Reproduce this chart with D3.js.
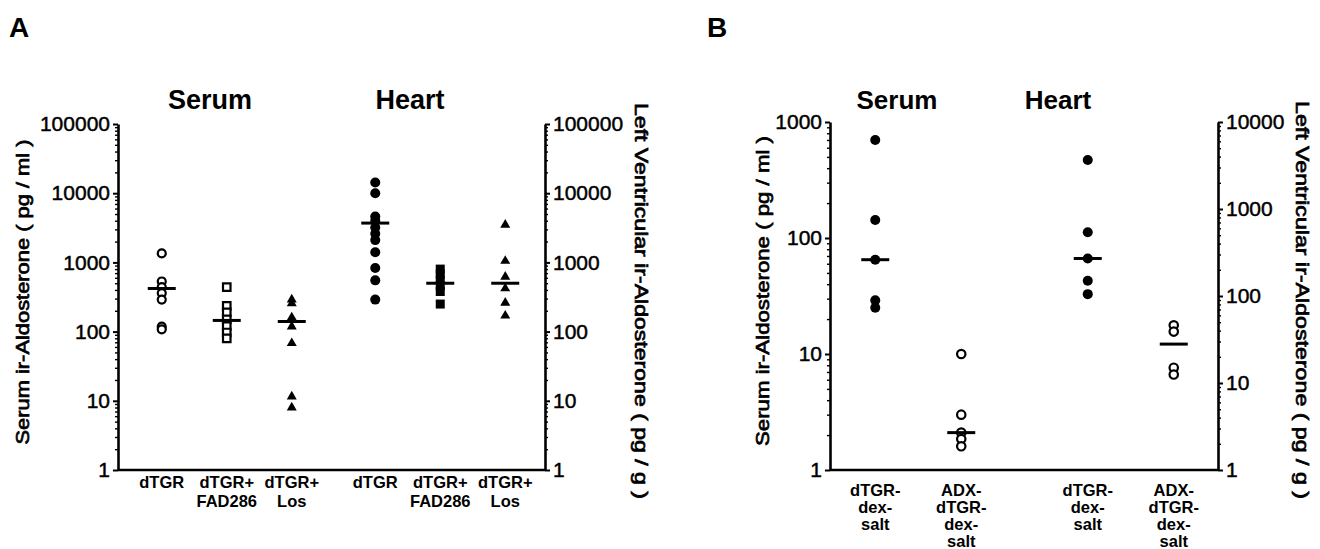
<!DOCTYPE html>
<html>
<head>
<meta charset="utf-8">
<script src="https://cdn.jsdelivr.net/npm/d3@7"></script>
<style>
  body { margin: 0; background: #fff; }
  svg { display: block; font-family: "Liberation Sans", Arial, sans-serif; }
</style>
</head>
<body>
<svg id="chart" width="1320" height="549"></svg>
<script>
/********/
/* data */
/********/

const groups = ["Serum", "Heart"];
const categoriesA = [["dTGR"], ["dTGR+", "FAD286"], ["dTGR+", "Los"]];
const categoriesB = [["dTGR-", "dex-", "salt"], ["ADX-", "dTGR-", "dex-", "salt"]];

// panel A, serum (pg/ml) and heart (pg/g)
const aSerumDTGR = [1350, 530, 440, 360, 290, 118, 108];
const aSerumFAD = [440, 235, 190, 150, 120, 97, 80];
const aSerumLos = [290, 255, 160, 118, 68, 11.5, 8];
const aHeartDTGR = [14300, 10000, 4600, 4000, 3200, 2600, 2100, 1400, 830, 550, 290];
const aHeartFAD = [800, 680, 560, 460, 380, 250];
const aHeartLos = [3500, 1050, 620, 420, 260, 170];
const aMedians = [420, 145, 140, 3700, 500, 500];

// panel B
const bSerumDTGR = [700, 143, 65, 29, 25];
const bSerumADX = [10, 3, 2.1, 1.85, 1.6];
const bHeartDTGR = [3650, 540, 270, 150, 105];
const bHeartADX = [46, 39, 15, 12.5];
const bMedians = [65, 2.1, 270, 28];

const ticksA = [1, 10, 100, 1000, 10000, 100000];
const ticksBLeft = [1, 10, 100, 1000];
const ticksBRight = [1, 10, 100, 1000, 10000];

const leftTitle = "Serum ir-Aldosterone ( pg / ml )";
const rightTitle = "Left Ventricular ir-Aldosterone ( pg / g )";

/**********/
/* panels */
/**********/

const svg = d3.select("#chart");

const panelA = {
  letter: "A",
  letterX: 9,
  left: 118,
  right: 545,
  top: 124,
  bottom: 470,
  bandRange: [120, 547],
  innerHalf: 65,
  titleX: [210, 410],
  titleSize: 27,
  leftDomain: [1, 100000],
  rightDomain: [1, 100000],
  leftTicks: ticksA,
  rightTicks: ticksA,
  categories: categoriesA,
  labelSize: 16.5,
  labelBase: 488,
  labelStep: 19,
  leftLabelX: 22,
  rightLabelX: 641,
  leftLabelLen: 305,
  rightLabelLen: 396,
  series: [
    { group: "Serum", cat: 0, values: aSerumDTGR, median: aMedians[0], shape: "circle", filled: false, size: 4 },
    { group: "Serum", cat: 1, values: aSerumFAD, median: aMedians[1], shape: "square", filled: false, size: 7.5 },
    { group: "Serum", cat: 2, values: aSerumLos, median: aMedians[2], shape: "triangle", filled: true, size: 10 },
    { group: "Heart", cat: 0, values: aHeartDTGR, median: aMedians[3], shape: "circle", filled: true, size: 5 },
    { group: "Heart", cat: 1, values: aHeartFAD, median: aMedians[4], shape: "square", filled: true, size: 9 },
    { group: "Heart", cat: 2, values: aHeartLos, median: aMedians[5], shape: "triangle", filled: true, size: 10 },
  ],
};

const panelB = {
  letter: "B",
  letterX: 707,
  left: 830,
  right: 1218,
  top: 122,
  bottom: 470,
  bandRange: [812, 1237],
  innerHalf: 43,
  titleX: [897, 1058],
  titleSize: 26,
  leftDomain: [1, 1000],
  rightDomain: [1, 10000],
  leftTicks: ticksBLeft,
  rightTicks: ticksBRight,
  categories: categoriesB,
  labelSize: 16.5,
  labelBase: 496,
  labelStep: 17,
  leftLabelX: 762,
  rightLabelX: 1302,
  leftLabelLen: 310,
  rightLabelLen: 398,
  series: [
    { group: "Serum", cat: 0, values: bSerumDTGR, median: bMedians[0], shape: "circle", filled: true, size: 5 },
    { group: "Serum", cat: 1, values: bSerumADX, median: bMedians[1], shape: "circle", filled: false, size: 4.2 },
    { group: "Heart", cat: 0, values: bHeartDTGR, median: bMedians[2], shape: "circle", filled: true, size: 5 },
    { group: "Heart", cat: 1, values: bHeartADX, median: bMedians[3], shape: "circle", filled: false, size: 4.2 },
  ],
};

function symbolPath(shape, size) {
  if (shape === "circle") {
    return d3.symbol().type(d3.symbolCircle).size(Math.PI * size * size)();
  }
  if (shape === "square") {
    return d3.symbol().type(d3.symbolSquare).size(size * size)();
  }
  return d3.symbol().type(d3.symbolTriangle).size((Math.sqrt(3) / 4) * size * size)();
}

function yAxis(g, scale, ticks, side, x) {
  const make = side === "left" ? d3.axisLeft : d3.axisRight;
  const minor = scale.ticks().filter(t => !ticks.includes(t));

  g.append("g")
    .attr("transform", `translate(${x},0)`)
    .call(make(scale).tickValues(minor).tickSize(3).tickSizeOuter(0).tickFormat(""))
    .call(a => a.select(".domain").remove())
    .call(a => a.selectAll("line").attr("stroke-width", 1.4));

  g.append("g")
    .attr("transform", `translate(${x},0)`)
    .call(make(scale).tickValues(ticks).tickSize(5).tickSizeOuter(0).tickPadding(3).tickFormat(d3.format("d")))
    .call(a => a.select(".domain").attr("stroke-width", 2.6))
    .call(a => a.selectAll("line").attr("stroke-width", 2))
    .call(a =>
      a.selectAll("text")
        .attr("font-size", 21)
        .attr("fill", "#000")
        .attr("stroke", "#000")
        .attr("stroke-width", 0.45),
    );
}

function drawPanel(cfg) {
  const g = svg.append("g");

  const yL = d3.scaleLog().domain(cfg.leftDomain).range([cfg.bottom, cfg.top]);
  const yR = d3.scaleLog().domain(cfg.rightDomain).range([cfg.bottom, cfg.top]);
  const outer = d3.scaleBand().domain(groups).range(cfg.bandRange);
  const mid = outer.bandwidth() / 2;
  const inner = d3
    .scalePoint()
    .domain(d3.range(cfg.categories.length))
    .range([mid - cfg.innerHalf, mid + cfg.innerHalf]);
  const xOf = (group, cat) => outer(group) + inner(cat);

  // panel letter
  g.append("text")
    .attr("x", cfg.letterX)
    .attr("y", 37)
    .attr("font-size", 28)
    .attr("font-weight", "bold")
    .text(cfg.letter);

  // group titles
  groups.forEach((name, i) => {
    g.append("text")
      .attr("x", cfg.titleX[i])
      .attr("y", 109)
      .attr("text-anchor", "middle")
      .attr("font-size", cfg.titleSize)
      .attr("font-weight", "bold")
      .text(name);
  });

  // axes
  yAxis(g, yL, cfg.leftTicks, "left", cfg.left);
  yAxis(g, yR, cfg.rightTicks, "right", cfg.right);

  g.append("line")
    .attr("x1", cfg.left)
    .attr("x2", cfg.right)
    .attr("y1", cfg.bottom)
    .attr("y2", cfg.bottom)
    .attr("stroke", "#000")
    .attr("stroke-width", 2.6);

  // axis titles
  g.append("text")
    .attr("transform", `translate(${cfg.leftLabelX},${(cfg.top + cfg.bottom) / 2 - 5}) rotate(-90)`)
    .attr("text-anchor", "middle")
    .attr("dominant-baseline", "central")
    .attr("font-size", 19)
    .attr("stroke", "#000")
    .attr("stroke-width", 0.7)
    .attr("textLength", cfg.leftLabelLen)
    .attr("lengthAdjust", "spacingAndGlyphs")
    .text(leftTitle);

  g.append("text")
    .attr("transform", `translate(${cfg.rightLabelX},${(cfg.top + cfg.bottom) / 2 + 4}) rotate(90)`)
    .attr("text-anchor", "middle")
    .attr("dominant-baseline", "central")
    .attr("font-size", 19)
    .attr("stroke", "#000")
    .attr("stroke-width", 0.7)
    .attr("textLength", cfg.rightLabelLen)
    .attr("lengthAdjust", "spacingAndGlyphs")
    .text(rightTitle);

  // category labels
  groups.forEach(group => {
    cfg.categories.forEach((lines, cat) => {
      const t = g
        .append("text")
        .attr("text-anchor", "middle")
        .attr("font-size", cfg.labelSize)
        .attr("font-weight", "bold");
      lines.forEach((line, k) => {
        t.append("tspan")
          .attr("x", xOf(group, cat))
          .attr("y", cfg.labelBase + k * cfg.labelStep)
          .text(line);
      });
    });
  });

  // points and medians
  cfg.series.forEach(s => {
    const y = s.group === "Serum" ? yL : yR;
    const x = xOf(s.group, s.cat);
    const open = !s.filled;
    const path = symbolPath(s.shape, s.size);

    g.append("g")
      .selectAll("path")
      .data(s.values)
      .join("path")
      .attr("d", path)
      .attr("transform", v => `translate(${x},${y(v)})`)
      .attr("fill", open ? "#fff" : "#000")
      .attr("stroke", "#000")
      .attr("stroke-width", open ? 2.2 : 0);

    g.append("line")
      .attr("x1", x - 14)
      .attr("x2", x + 14)
      .attr("y1", y(s.median))
      .attr("y2", y(s.median))
      .attr("stroke", "#000")
      .attr("stroke-width", 3);
  });
}

drawPanel(panelA);
drawPanel(panelB);
</script>
</body>
</html>
